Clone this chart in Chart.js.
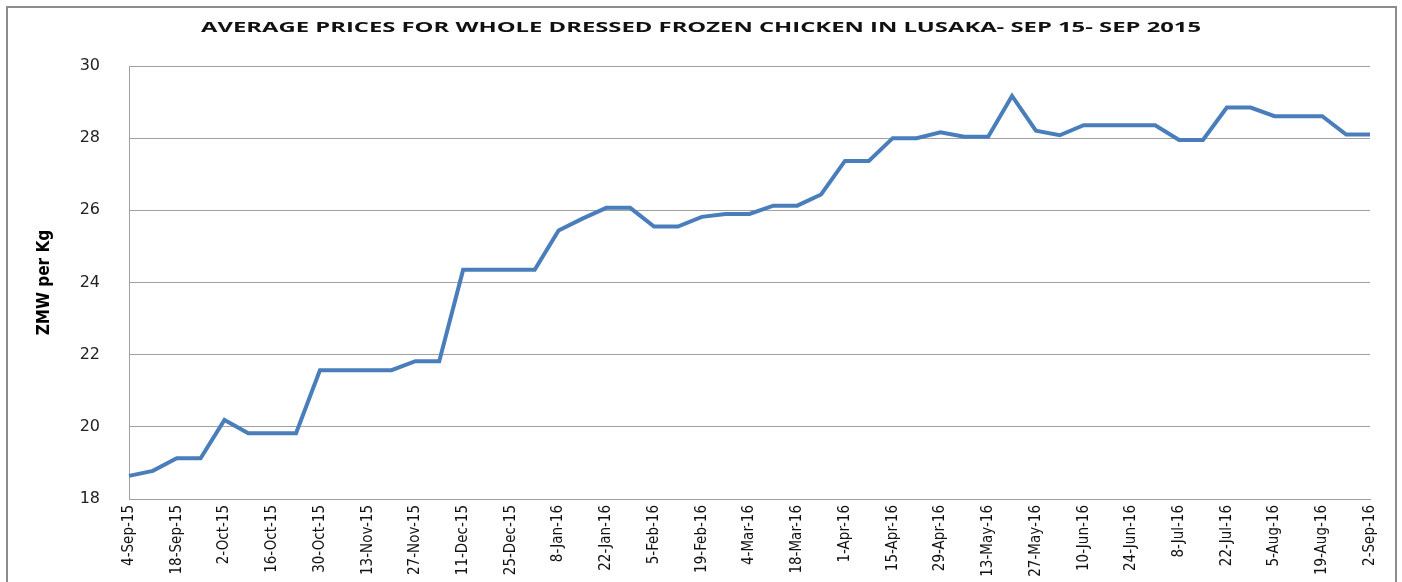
<!DOCTYPE html>
<html>
<head>
<meta charset="utf-8">
<script src="https://cdn.jsdelivr.net/npm/chart.js@4"></script>
<style>
  body{margin:0;background:#fff;overflow:hidden;}
  #wrap{position:relative;width:1402px;height:582px;}
  #frame{position:absolute;left:6px;top:6px;width:1387px;height:600px;border:2px solid #8c8c8c;pointer-events:none;}
  #title{position:absolute;left:0;width:1402px;top:17px;text-align:center;font:bold 14px "Open Sans",sans-serif;color:#111;}
  #title span{display:inline-block;transform:scaleX(1.7);transform-origin:center;}
</style>
</head>
<body>
<div id="wrap">
  <canvas id="chart"></canvas>
  <div id="frame"></div>
  <div id="title"><span>AVERAGE PRICES FOR WHOLE DRESSED FROZEN CHICKEN IN LUSAKA- SEP 15- SEP 2015</span></div>
</div>
<script>
const weeks = [
  "4-Sep-15","11-Sep-15","18-Sep-15","25-Sep-15","2-Oct-15","9-Oct-15","16-Oct-15","23-Oct-15",
  "30-Oct-15","6-Nov-15","13-Nov-15","20-Nov-15","27-Nov-15","4-Dec-15","11-Dec-15","18-Dec-15",
  "25-Dec-15","1-Jan-16","8-Jan-16","15-Jan-16","22-Jan-16","29-Jan-16","5-Feb-16","12-Feb-16",
  "19-Feb-16","26-Feb-16","4-Mar-16","11-Mar-16","18-Mar-16","25-Mar-16","1-Apr-16","8-Apr-16",
  "15-Apr-16","22-Apr-16","29-Apr-16","6-May-16","13-May-16","20-May-16","27-May-16","3-Jun-16",
  "10-Jun-16","17-Jun-16","24-Jun-16","1-Jul-16","8-Jul-16","15-Jul-16","22-Jul-16","29-Jul-16",
  "5-Aug-16","12-Aug-16","19-Aug-16","26-Aug-16","2-Sep-16"
];
const prices = [
  18.64,18.78,19.13,19.13,20.19,19.82,19.82,19.82,
  21.57,21.57,21.57,21.57,21.82,21.82,24.35,24.35,
  24.35,24.35,25.44,25.77,26.07,26.07,25.55,25.55,
  25.82,25.90,25.90,26.13,26.13,26.44,27.37,27.37,
  28.00,28.00,28.16,28.04,28.04,29.17,28.21,28.08,
  28.36,28.36,28.36,28.36,27.95,27.95,28.85,28.85,
  28.61,28.61,28.61,28.10,28.10
];
const yTitle = "ZMW per Kg";

chart = new Chart(document.getElementById("chart"), {
  type: "line",
  data: {
    labels: weeks,
    datasets: [{
      label: "Price",
      data: prices,
      borderColor: "#4a7ebb",
      borderWidth: 4,
      pointRadius: 0,
      tension: 0,
      fill: false
    }]
  },
  options: {
    responsive: true,
    maintainAspectRatio: false,
    animation: false,
    layout: { padding: { top: 66, right: 32, left: 0, bottom: 0 } },
    plugins: { legend: { display: false }, tooltip: { enabled: false } },
    scales: {
      x: {
        offset: false,
        grid: { display: false, drawTicks: false },
        border: { display: true, color: "#a0a0a0", width: 1 },
        ticks: {
          autoSkip: false,
          minRotation: 90,
          maxRotation: 90,
          padding: 6,
          color: "#111",
          font: { family: "'DejaVu Sans Condensed',sans-serif", size: 15 },
          callback: (v, i) => i % 2 === 0 ? weeks[i] : ""
        },
        afterFit: s => { s.height = 83; }
      },
      y: {
        min: 18,
        max: 30,
        grid: { color: "#a0a0a0", lineWidth: 1, drawTicks: false },
        border: { display: true, color: "#a0a0a0", width: 1 },
        ticks: {
          stepSize: 2,
          padding: 29,
          color: "#222",
          font: { family: "'DejaVu Sans',sans-serif", size: 16 }
        },
        title: {
          display: true,
          text: yTitle,
          color: "#000",
          padding: { top: 34, bottom: 0 },
          font: { family: "'DejaVu Sans Condensed',sans-serif", size: 17, weight: "bold" }
        },
        afterFit: s => { s.width = 129; }
      }
    }
  }
});
</script>
</body>
</html>
